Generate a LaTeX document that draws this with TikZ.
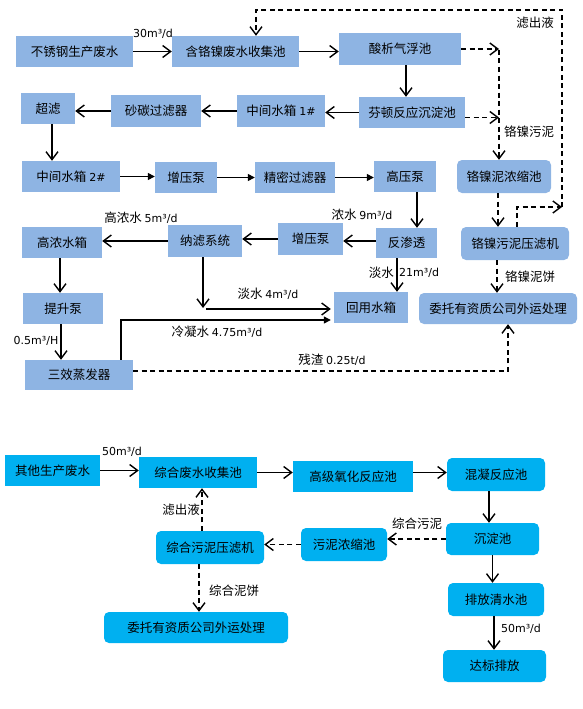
\documentclass[tikz,border=0pt]{standalone}
\usepackage{fontspec}
\setmainfont{Noto Sans CJK SC}
\newfontfamily\latf{DejaVu Sans}
\usetikzlibrary{arrows.meta}
\definecolor{tbl}{HTML}{8EB4E3}
\definecolor{cyn}{HTML}{00B0F0}
\newcommand{\nm}[1]{{\latf\fontsize{11}{13}\selectfont #1}}
\tikzset{
  box/.style={fill=tbl, draw=none, inner sep=0pt, font=\fontsize{12.5}{15}\selectfont, text=black},
  rbox/.style={box, rounded corners=5pt},
  cbox/.style={box, fill=cyn},
  crbox/.style={cbox, rounded corners=5pt},
  arr/.style={draw, line width=1.4pt, -{Straight Barb[length=8pt,width=12pt]}},
  arrF/.style={draw, line width=1.3pt, -{Triangle[length=7pt,width=7pt]}},
  darr/.style={arr, dash pattern=on 5pt off 3.5pt},
  dline/.style={draw, line width=1.4pt, dash pattern=on 5pt off 3.5pt},
  lbl/.style={font=\fontsize{12.5}{15}\selectfont, inner sep=0pt}
}
\begin{document}
\begin{tikzpicture}[x=1pt,y=-1pt]
\useasboundingbox (0,0) rectangle (582,709);
% ---------- top figure boxes ----------
\node[box,minimum width=117pt,minimum height=31pt] (src1) at (74.5,51.5) {不锈钢生产废水};
\node[box,minimum width=127pt,minimum height=31pt] (col1) at (235.5,51.5) {含铬镍废水收集池};
\node[box,minimum width=122pt,minimum height=32pt] (acid) at (400,49) {酸析气浮池};
\node[box,minimum width=106pt,minimum height=31pt] (fenton) at (412,112.5) {芬顿反应沉淀池};
\node[box,minimum width=88pt,minimum height=32pt] (tank1) at (281,111) {中间水箱 \nm{1\#}};
\node[box,minimum width=90pt,minimum height=32pt] (sand) at (156,111) {砂碳过滤器};
\node[box,minimum width=54pt,minimum height=31pt] (uf) at (48,108.5) {超滤};
\node[box,minimum width=98pt,minimum height=31pt] (tank2) at (71,176.5) {中间水箱 \nm{2\#}};
\node[box,minimum width=62pt,minimum height=31pt] (pump1) at (186,177.5) {增压泵};
\node[box,minimum width=80pt,minimum height=31pt] (fine) at (295,177.5) {精密过滤器};
\node[box,minimum width=62pt,minimum height=31pt] (hp) at (405,176.5) {高压泵};
\node[rbox,minimum width=94pt,minimum height=33pt] (thick) at (504,176.5) {铬镍泥浓缩池};
\node[rbox,minimum width=108pt,minimum height=33pt] (press) at (515,243.5) {铬镍污泥压滤机};
\node[box,minimum width=61pt,minimum height=30pt] (ro) at (406.5,243) {反渗透};
\node[box,minimum width=65pt,minimum height=32pt] (pump2) at (310.5,239) {增压泵};
\node[box,minimum width=74pt,minimum height=32pt] (nf) at (205,241) {纳滤系统};
\node[box,minimum width=80pt,minimum height=31pt] (hc) at (62,242.5) {高浓水箱};
\node[box,minimum width=80pt,minimum height=31pt] (lift) at (63,308.5) {提升泵};
\node[box,minimum width=108pt,minimum height=30pt] (evap) at (79,375) {三效蒸发器};
\node[box,minimum width=74pt,minimum height=31pt] (reuse) at (371,307.5) {回用水箱};
\node[rbox,minimum width=158pt,minimum height=31pt] (out1) at (498,308.5) {委托有资质公司外运处理};
% ---------- top figure connectors ----------
\draw[arr] (src1.east) -- (col1.west);
\draw[arr] (col1.east) -- (col1.east -| acid.west);
\draw[arr] ([xshift=6pt]acid.south) -- ([xshift=6pt]acid.south |- fenton.north);
\draw[arr] (fenton.west) -- (fenton.west -| tank1.east);
\draw[arr] (tank1.west) -- (tank1.west -| sand.east);
\draw[arr] (sand.west) -- (sand.west -| uf.east);
\draw[arr] ([xshift=4pt]uf.south) -- ([xshift=4pt]uf.south |- tank2.north);
\draw[arrF] (tank2.east) -- (tank2.east -| pump1.west);
\draw[arrF] (pump1.east) -- (fine.west);
\draw[arrF] (fine.east) -- (fine.east -| hp.west);
\draw[arr] ([xshift=12pt]hp.south) -- ([xshift=12pt]hp.south |- ro.north);
\draw[arr] ([yshift=2pt]ro.west) -- ([yshift=2pt]ro.west -| pump2.east);
\draw[arr] (pump2.west) -- (pump2.west -| nf.east);
\draw[arr] (nf.west) -- (nf.west -| hc.east);
\draw[arr] ([xshift=-2pt]hc.south) -- ([xshift=-2pt]hc.south |- lift.north);
\draw[arr] ([xshift=-2pt]lift.south) -- ([xshift=-2pt]lift.south |- evap.north);
\draw[arr] ([xshift=-9.5pt]ro.south) -- ([xshift=-9.5pt]ro.south |- reuse.north);
\coordinate (nfend) at (203,308);
\coordinate (fw) at (206,309);
\draw[arr] ([xshift=-2pt]nf.south) -- (nfend);
\draw[arr, shorten >=3pt] (fw) -- (fw -| reuse.west);
\draw[arrF, shorten >=3pt] ([xshift=42pt]evap.north) |- ([yshift=-12.5pt]reuse.west);
\draw[darr] ([yshift=4pt]evap.east) -| ([xshift=10pt]out1.south);
\coordinate (j1) at (499,50);
\draw[darr] (acid.east) -- (acid.east -| j1);
\draw[darr] ([yshift=-5pt]fenton.east) -- ([yshift=-5pt]fenton.east -| j1);
\draw[darr] (j1) -- (j1 |- thick.north);
\draw[darr] ([xshift=-6pt]thick.south) -- ([xshift=-6pt]thick.south |- press.north);
\coordinate (j2) at (562,207);
\coordinate (j3) at (562,10);
\draw[darr] ([xshift=2pt]press.north) |- (j2);
\draw[darr] (j2) -- (j3) -| ([xshift=20.5pt]col1.north);
\draw[darr] ([xshift=-18pt]press.south) -- ([xshift=-18pt]press.south |- out1.north);
% ---------- top labels ----------
\node[lbl] (l1) at (153,34) {\nm{30m³/d}};
\node[lbl] (l2) at (535,23) {滤出液};
\node[lbl] (l3) at (529,132) {铬镍污泥};
\node[lbl] (l4) at (141,218) {高浓水 \nm{5m³/d}};
\node[lbl] (l5) at (362,215) {浓水 \nm{9m³/d}};
\node[lbl,anchor=east] (l6a) at (394,273) {淡水};
\node[lbl,anchor=west] (l6b) at (399,273) {\nm{21m³/d}};
\node[lbl] (l7) at (530,277) {铬镍泥饼};
\node[lbl] (l8) at (36,341) {\nm{0.5m³/H}};
\node[lbl] (l9) at (268,294) {淡水 \nm{4m³/d}};
\node[lbl] (l10) at (217,332) {冷凝水 \nm{4.75m³/d}};
\node[lbl] (l11) at (332,360) {残渣 \nm{0.25t/d}};
% ---------- bottom figure boxes ----------
\node[cbox,minimum width=95pt,minimum height=31pt] (src2) at (52.5,470.5) {其他生产废水};
\node[cbox,minimum width=118pt,minimum height=31pt] (col2) at (198,472.5) {综合废水收集池};
\node[cbox,minimum width=120pt,minimum height=31pt] (aop) at (353,476.5) {高级氧化反应池};
\node[crbox,minimum width=98pt,minimum height=33pt] (coag) at (496,474.5) {混凝反应池};
\node[crbox,minimum width=93pt,minimum height=32pt] (sed) at (492.5,539) {沉淀池};
\node[crbox,minimum width=86pt,minimum height=33pt] (thick2) at (344,544.5) {污泥浓缩池};
\node[crbox,minimum width=108pt,minimum height=33pt] (press2) at (210,547.5) {综合污泥压滤机};
\node[crbox,minimum width=184pt,minimum height=31pt] (out2) at (196,627.5) {委托有资质公司外运处理};
\node[crbox,minimum width=96pt,minimum height=33pt] (clear) at (496,599.5) {排放清水池};
\node[crbox,minimum width=103pt,minimum height=32pt] (disch) at (494.5,666) {达标排放};
% ---------- bottom connectors ----------
\draw[arr] (src2.east) -- (src2.east -| col2.west);
\draw[arr] (col2.east) -- (col2.east -| aop.west);
\draw[arr] ([yshift=4pt]aop.east) -- ([yshift=4pt]aop.east -| coag.west);
\draw[arr] ([xshift=-7pt]coag.south) -- ([xshift=-7pt]coag.south |- sed.north);
\draw[arr] (sed.south) -- (sed.south |- clear.north);
\draw[arr] ([xshift=-2pt]clear.south) -- ([xshift=-2pt]clear.south |- disch.north);
\draw[darr] (sed.west) -- (sed.west -| thick2.east);
\draw[darr] (thick2.west) -- (thick2.west -| press2.east);
\draw[darr] ([xshift=-8pt]press2.north) -- ([xshift=-8pt]press2.north |- col2.south);
\draw[darr] ([xshift=-11pt]press2.south) -- ([xshift=-11pt]press2.south |- out2.north);
% ---------- bottom labels ----------
\node[lbl] (b1) at (122,452) {\nm{50m³/d}};
\node[lbl] (b2) at (181,510) {滤出液};
\node[lbl] (b3) at (234,591) {综合泥饼};
\node[lbl] (b4) at (417,524) {综合污泥};
\node[lbl] (b5) at (521,629) {\nm{50m³/d}};
\end{tikzpicture}
\end{document}
